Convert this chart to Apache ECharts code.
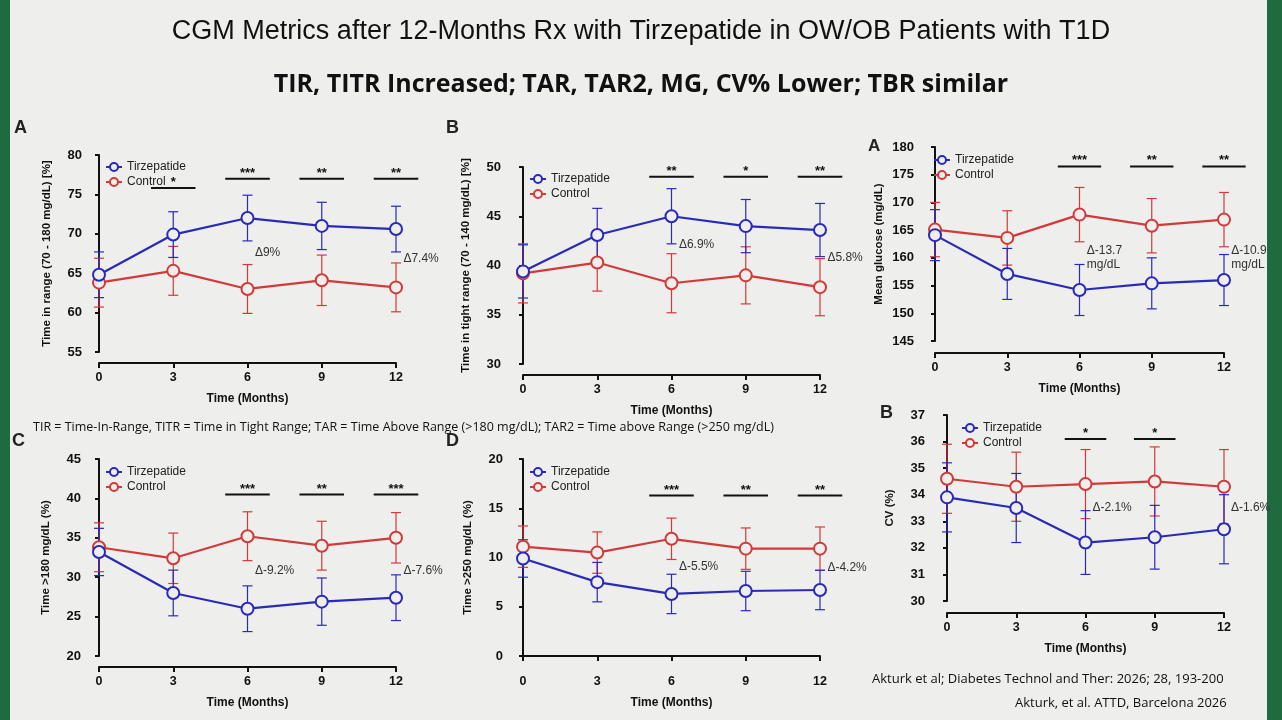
<!DOCTYPE html>
<html><head><meta charset="utf-8">
<script src="https://cdn.jsdelivr.net/npm/echarts@6/dist/echarts.min.js"></script>
<style>html,body{margin:0;padding:0;background:#1f6b3f}#c{width:1282px;height:720px}</style>
</head><body><div id="c"></div>
<script>
const months = [0, 3, 6, 9, 12];
// Panel A: TIR
const tirTz = [64.8, 69.9, 72.0, 71.0, 70.6], tirTzSd = [2.9, 2.9, 2.9, 3.0, 2.9];
const tirCt = [63.8, 65.3, 63.0, 64.1, 63.2], tirCtSd = [3.1, 3.1, 3.1, 3.2, 3.1];
const tirSig = [[3, 75.8, '*'], [6, 77.0, '***'], [9, 77.0, '**'], [12, 77.0, '**']];
const tirNotes = [[6.3, 67.6, 'Δ9%'], [12.3, 66.8, 'Δ7.4%']];
// Panel B: TITR
const titrTz = [39.4, 43.1, 45.0, 44.0, 43.6], titrTzSd = [2.7, 2.7, 2.8, 2.7, 2.7];
const titrCt = [39.2, 40.3, 38.2, 39.0, 37.8], titrCtSd = [3.0, 2.9, 3.0, 2.9, 2.9];
const titrSig = [[6, 49.0, '**'], [9, 49.0, '*'], [12, 49.0, '**']];
const titrNotes = [[6.3, 42.1, 'Δ6.9%'], [12.3, 40.8, 'Δ5.8%']];
// Mean glucose
const mgTz = [164.1, 157.1, 154.2, 155.4, 156.0], mgTzSd = [4.6, 4.6, 4.6, 4.6, 4.6];
const mgCt = [165.1, 163.6, 167.8, 165.8, 166.9], mgCtSd = [4.9, 4.9, 4.9, 4.9, 4.9];
const mgSig = [[6, 176.5, '***'], [9, 176.5, '**'], [12, 176.5, '**']];
const mgNotes = [[6.3, 160.0, 'Δ-13.7\nmg/dL'], [12.3, 160.0, 'Δ-10.9\nmg/dL']];
// CV
const cvTz = [33.9, 33.5, 32.2, 32.4, 32.7], cvTzSd = [1.3, 1.3, 1.2, 1.2, 1.3];
const cvCt = [34.6, 34.3, 34.4, 34.5, 34.3], cvCtSd = [1.3, 1.3, 1.3, 1.3, 1.4];
const cvSig = [[6, 36.1, '*'], [9, 36.1, '*']];
const cvNotes = [[6.3, 33.5, 'Δ-2.1%'], [12.3, 33.5, 'Δ-1.6%']];
// Panel C: TAR
const tarTz = [33.2, 28.0, 26.0, 26.9, 27.4], tarTzSd = [3.0, 2.9, 2.9, 3.0, 2.9];
const tarCt = [33.8, 32.4, 35.2, 34.0, 35.0], tarCtSd = [3.1, 3.2, 3.1, 3.1, 3.2];
const tarSig = [[6, 40.5, '***'], [9, 40.5, '**'], [12, 40.5, '***']];
const tarNotes = [[6.3, 30.8, 'Δ-9.2%'], [12.3, 30.8, 'Δ-7.6%']];
// Panel D: TAR2
const tar2Tz = [9.9, 7.5, 6.3, 6.6, 6.7], tar2TzSd = [1.9, 2.0, 2.0, 2.0, 2.0];
const tar2Ct = [11.1, 10.5, 11.9, 10.9, 10.9], tar2CtSd = [2.1, 2.1, 2.1, 2.1, 2.2];
const tar2Sig = [[6, 16.3, '***'], [9, 16.3, '**'], [12, 16.3, '**']];
const tar2Notes = [[6.3, 9.1, 'Δ-5.5%'], [12.3, 9.0, 'Δ-4.2%']];

const BLUE = '#2a2ab8', RED = '#d23a3a', FONT = 'Liberation Sans', BG = '#eeeeec';
const panels = [
  {g:{left:99,width:297,top:155,height:197}, yo:13, xo:11, min:55,max:80,iv:5, name:'Time in range (70 - 180 mg/dL) [%]', tz:tirTz,tzs:tirTzSd,ct:tirCt,cts:tirCtSd,sig:tirSig,notes:tirNotes, leg:[100,156]},
  {g:{left:523,width:297,top:167,height:197}, yo:18, xo:11, min:30,max:50,iv:5, name:'Time in tight range (70 - 140 mg/dL) [%]', tz:titrTz,tzs:titrTzSd,ct:titrCt,cts:titrCtSd,sig:titrSig,notes:titrNotes, leg:[524,168]},
  {g:{left:935,width:289,top:147,height:194}, yo:17, xo:12, min:145,max:180,iv:5, name:'Mean glucose (mg/dL)', tz:mgTz,tzs:mgTzSd,ct:mgCt,cts:mgCtSd,sig:mgSig,notes:mgNotes, leg:[928,149]},
  {g:{left:947,width:277,top:415,height:186}, yo:18, xo:12, min:30,max:37,iv:1, name:'CV (%)', tz:cvTz,tzs:cvTzSd,ct:cvCt,cts:cvCtSd,sig:cvSig,notes:cvNotes, leg:[956,417]},
  {g:{left:99,width:297,top:459,height:197}, yo:14, xo:11, min:20,max:45,iv:5, name:'Time >180 mg/dL (%)', tz:tarTz,tzs:tarTzSd,ct:tarCt,cts:tarCtSd,sig:tarSig,notes:tarNotes, leg:[100,461]},
  {g:{left:523,width:297,top:459,height:197}, yo:16, xo:11, min:0,max:20,iv:5, name:'Time >250 mg/dL (%)', tz:tar2Tz,tzs:tar2TzSd,ct:tar2Ct,cts:tar2CtSd,sig:tar2Sig,notes:tar2Notes, leg:[524,461]}
];

const grids=[], xAxes=[], yAxes=[], series=[], legends=[];
const errRender = color => (params, api) => {
  const x = api.value(0), m = api.value(1), s = api.value(2);
  const top = api.coord([x, m + s]), bot = api.coord([x, m - s]);
  const st = {stroke: color, lineWidth: 1.2};
  return {type:'group', children:[
    {type:'line', shape:{x1:top[0],y1:top[1],x2:bot[0],y2:bot[1]}, style:st},
    {type:'line', shape:{x1:top[0]-5,y1:top[1],x2:top[0]+5,y2:top[1]}, style:st},
    {type:'line', shape:{x1:bot[0]-5,y1:bot[1],x2:bot[0]+5,y2:bot[1]}, style:st}
  ]};
};
const sigRender = arr => (params, api) => {
  const x = api.value(0), y = api.value(1);
  const a = api.coord([x - 0.9, y]), b = api.coord([x + 0.9, y]);
  return {type:'group', children:[
    {type:'line', shape:{x1:a[0],y1:a[1],x2:b[0],y2:b[1]}, style:{stroke:'#111', lineWidth:2}},
    {type:'text', style:{text: arr[params.dataIndex][2], x:(a[0]+b[0])/2, y:a[1]+1, align:'center', verticalAlign:'bottom', fill:'#111', font:'bold 13px '+FONT}}
  ]};
};
const noteRender = arr => (params, api) => {
  const p = api.coord([api.value(0), api.value(1)]);
  return {type:'text', style:{text: arr[params.dataIndex][2], x:p[0], y:p[1], align:'left', verticalAlign:'middle', fill:'#333', font:'12px '+FONT, lineHeight:14}};
};
const lineSeries = (name, i, data, col) => ({name, type:'line', xAxisIndex:i, yAxisIndex:i, data, color:col,
  symbol:'circle', symbolSize:12, lineStyle:{width:2.2, color:col}, itemStyle:{borderWidth:2, color:BG, borderColor:col}, z:3});
panels.forEach((p, i) => {
  grids.push(p.g);
  xAxes.push({gridIndex:i, type:'value', min:0, max:12, interval:3, offset:p.xo,
    name:'Time (Months)', nameLocation:'middle', nameGap:30, nameTextStyle:{fontWeight:'bold', fontSize:12, color:'#111', fontFamily:FONT},
    axisLine:{lineStyle:{color:'#111', width:2}}, axisTick:{length:5, lineStyle:{color:'#111', width:2}},
    axisLabel:{fontWeight:'bold', fontSize:12.5, color:'#111', fontFamily:FONT}, splitLine:{show:false}});
  yAxes.push({gridIndex:i, type:'value', min:p.min, max:p.max, interval:p.iv, offset:p.yo,
    name:p.name, nameLocation:'middle', nameGap: 33, nameTextStyle:{fontWeight:'bold', fontSize:11.5, color:'#111', fontFamily:FONT},
    axisLine:{show:true, lineStyle:{color:'#111', width:2}}, axisTick:{show:true, length:4, lineStyle:{color:'#111', width:2}},
    axisLabel:{fontWeight:'bold', fontSize:13, color:'#111', fontFamily:FONT, margin:4}, splitLine:{show:false}});
  const mk = (arr) => months.map((m, k) => [m, arr[k]]);
  const mkE = (arr, sd) => months.map((m, k) => [m, arr[k], sd[k]]);
  series.push({type:'custom', xAxisIndex:i, yAxisIndex:i, renderItem:errRender(RED), data:mkE(p.ct, p.cts), silent:true, z:2});
  series.push({type:'custom', xAxisIndex:i, yAxisIndex:i, renderItem:errRender(BLUE), data:mkE(p.tz, p.tzs), silent:true, z:2});
  series.push(lineSeries('Control', i, mk(p.ct), RED));
  series.push(lineSeries('Tirzepatide', i, mk(p.tz), BLUE));
  series.push({type:'custom', xAxisIndex:i, yAxisIndex:i, renderItem:sigRender(p.sig), data:p.sig.map(d => [d[0], d[1]]), silent:true});
  series.push({type:'custom', xAxisIndex:i, yAxisIndex:i, renderItem:noteRender(p.notes), data:p.notes.map(d => [d[0], d[1]]), silent:true});
  legends.push({left:p.leg[0], top:p.leg[1], orient:'vertical', itemGap:3, itemWidth:16, itemHeight:10, data:['Tirzepatide','Control'], textStyle:{fontSize:12, color:'#222', fontFamily:FONT}, selectedMode:false});
});

const chart = echarts.init(document.getElementById('c'));
chart.setOption({
  backgroundColor:'#1f6b3f',
  animation:false,
  graphic:[
    {type:'rect', shape:{x:10, y:0, width:1257, height:720}, style:{fill:BG}, z:-10},
    {type:'text', left:'center', top:18, style:{text:'CGM Metrics after 12-Months Rx with Tirzepatide in OW/OB Patients with T1D', font:'27px '+FONT, fill:'#111'}},
    {type:'text', left:'center', top:72, style:{text:'TIR, TITR Increased; TAR, TAR2, MG, CV% Lower; TBR similar', font:'bold 25px "Open Sans"', fill:'#111'}},
    {type:'text', left:33, top:421, style:{text:'TIR = Time-In-Range, TITR = Time in Tight Range; TAR = Time Above Range (>180 mg/dL); TAR2 = Time above Range (>250 mg/dL)', font:'12.5px "Open Sans"', fill:'#111'}},
    {type:'text', left:14, top:119, style:{text:'A', font:'bold 18px '+FONT, fill:'#222'}},
    {type:'text', left:446, top:119, style:{text:'B', font:'bold 18px '+FONT, fill:'#222'}},
    {type:'text', left:868, top:138, style:{text:'A', font:'bold 17px '+FONT, fill:'#222'}},
    {type:'text', left:12, top:432, style:{text:'C', font:'bold 18px '+FONT, fill:'#222'}},
    {type:'text', left:446, top:432, style:{text:'D', font:'bold 18px '+FONT, fill:'#222'}},
    {type:'text', left:880, top:404, style:{text:'B', font:'bold 18px '+FONT, fill:'#222'}},
    {type:'text', left:872, top:673, style:{text:'Akturk et al; Diabetes Technol and Ther: 2026; 28, 193-200', font:'13px "Open Sans"', fill:'#111'}},
    {type:'text', left:1015, top:697, style:{text:'Akturk, et al. ATTD, Barcelona 2026', font:'13px "Open Sans"', fill:'#111'}}
  ],
  legend:legends, grid:grids, xAxis:xAxes, yAxis:yAxes, series:series
});
</script></body></html>
